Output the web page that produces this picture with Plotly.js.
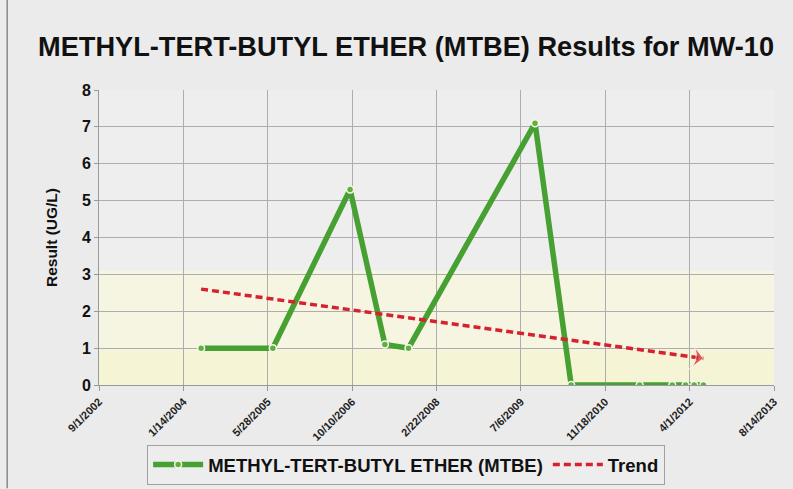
<!DOCTYPE html>
<html>
<head>
<meta charset="utf-8">
<script src="https://cdn.plot.ly/plotly-3.0.1.min.js"></script>
<style>
html,body{margin:0;padding:0;background:#ebebeb;}
#chart{width:793px;height:489px;}
</style>
</head>
<body>
<div id="chart"></div>
<script>
// Data
const sampleDates = ['2004-04-28','2005-06-27','2006-09-28','2007-04-22','2007-09-09','2009-09-28',
                     '2010-04-30','2011-06-10','2011-12-20','2012-03-08','2012-04-28','2012-06-22'];
const sampleValues = [1.0, 1.0, 5.3, 1.1, 1.0, 7.1, 0, 0, 0, 0, 0, 0];
const trendDates = ['2004-04-28','2012-06-22'];
const trendValues = [2.6, 0.72];
const tickDates = ['2002-09-01','2004-01-14','2005-05-28','2006-10-10','2008-02-22','2009-07-06','2010-11-18','2012-04-01','2013-08-14'];
const tickLabels = ['9/1/2002','1/14/2004','5/28/2005','10/10/2006','2/22/2008','7/6/2009','11/18/2010','4/1/2012','8/14/2013'];
const yTicks = [0,1,2,3,4,5,6,7,8];
const seriesName = 'METHYL-TERT-BUTYL ETHER (MTBE)';
const trendName = 'Trend';
const titleText = 'METHYL-TERT-BUTYL ETHER (MTBE) Results for MW-10';

const FONT = 'Liberation Sans, Arial, Helvetica, sans-serif';

const traces = [
  {
    x: sampleDates, y: sampleValues, type: 'scatter', mode: 'lines+markers',
    name: seriesName,
    line: {color: '#46a032', width: 5.5},
    marker: {symbol: 'circle', size: 7, color: '#62b03c', line: {color: '#f4f8ee', width: 1.5}}
  },
  {
    x: trendDates, y: trendValues, type: 'scatter', mode: 'lines',
    name: trendName,
    line: {color: '#d8212f', width: 3.5, dash: '7px,4px'}
  },
  {
    x: trendDates, y: trendValues, type: 'scatter', mode: 'markers',
    showlegend: false, hoverinfo: 'skip',
    marker: {symbol: 'arrow-wide', angleref: 'previous', size: [0, 18], color: '#d8212f'}
  }
];

const layout = {
  width: 793, height: 489,
  margin: {l: 99, r: 19, t: 90, b: 104},
  paper_bgcolor: '#ebebeb',
  plot_bgcolor: '#eeeeee',
  font: {family: FONT, color: '#111', size: 12},
  title: {
    text: titleText,
    font: {family: FONT, size: 27.2, weight: 'bold', color: '#111'},
    x: 0.512, xanchor: 'center', y: 0.905, yanchor: 'middle'
  },
  xaxis: {
    type: 'date',
    range: [tickDates[0], tickDates[tickDates.length - 1]],
    tickmode: 'array', tickvals: tickDates, ticktext: tickLabels,
    tickangle: -45,
    tickfont: {family: FONT, size: 11, weight: 'bold', color: '#222'},
    showgrid: true, gridcolor: '#adadad', gridwidth: 1,
    ticks: 'outside', ticklen: 5, tickcolor: '#999',
    showline: true, linecolor: '#999', linewidth: 1,
    zeroline: false, fixedrange: true, automargin: false
  },
  yaxis: {
    range: [0, 8],
    tickmode: 'array', tickvals: yTicks,
    tickfont: {family: FONT, size: 16, weight: 'bold', color: '#111'},
    showgrid: true, gridcolor: '#adadad', gridwidth: 1,
    ticks: 'outside', ticklen: 4, tickcolor: '#999',
    showline: true, linecolor: '#999', linewidth: 1,
    zeroline: false,
    title: {text: 'Result (UG/L)', font: {family: FONT, size: 15.5, weight: 'bold', color: '#111'}, standoff: 20},
    fixedrange: true, automargin: false
  },
  legend: {
    orientation: 'h', xref: 'paper', yref: 'container',
    x: 0.455, xanchor: 'center', y: 0.09, yanchor: 'top',
    bgcolor: '#ededed', bordercolor: '#a0a0a0', borderwidth: 1,
    font: {family: FONT, size: 18.5, weight: 'bold', color: '#111'},
    itemwidth: 50
  },
  shapes: [
    {type: 'rect', xref: 'paper', yref: 'y', x0: 0, x1: 1, y0: 0, y1: 3.1,
     fillcolor: '#f6f5e1', line: {width: 0}, layer: 'below'},
    {type: 'rect', xref: 'paper', yref: 'y', x0: 0, x1: 1, y0: 0, y1: 0.95,
     fillcolor: '#f5f4d4', line: {width: 0}, layer: 'below'},
    {type: 'line', xref: 'paper', yref: 'paper', x0: -0.136, x1: -0.136, y0: -0.35, y1: 1.31,
     line: {color: '#8a8a8a', width: 1.5}}
  ],
  showlegend: true
};

Plotly.newPlot('chart', traces, layout, {displayModeBar: false, staticPlot: true});
</script>
</body>
</html>
